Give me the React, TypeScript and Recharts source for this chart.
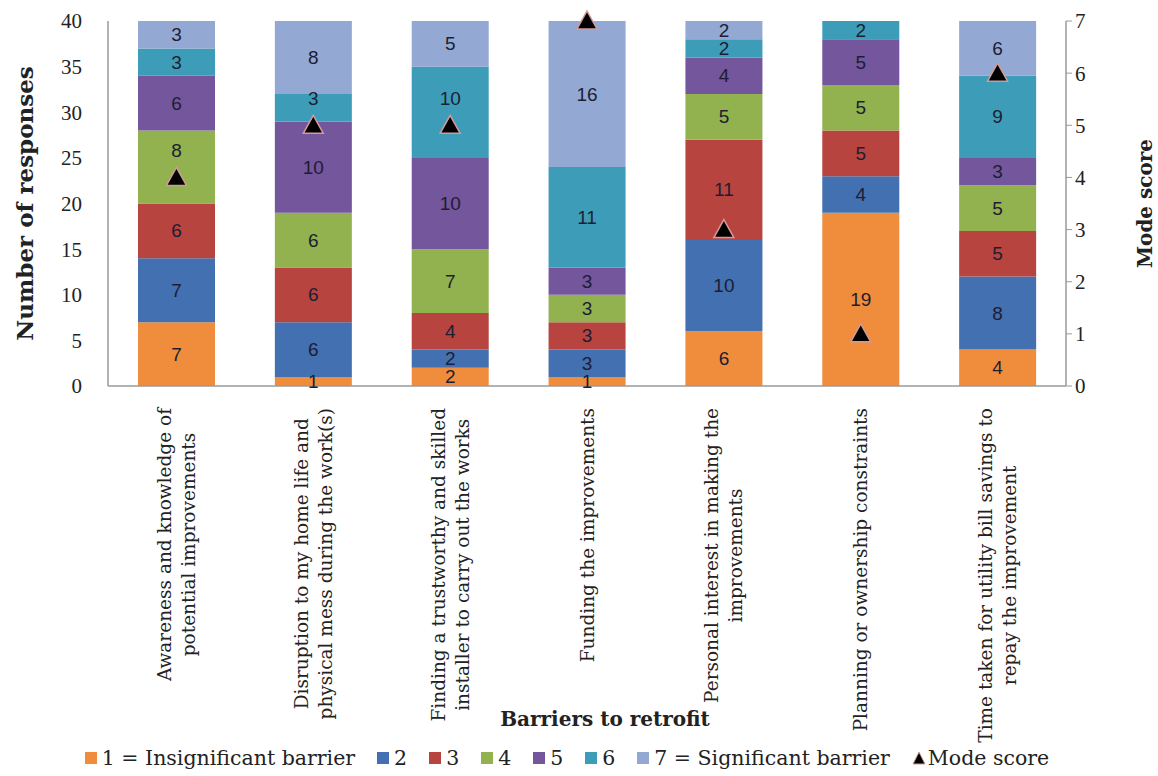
import React from 'react'
import { ComposedChart, Bar, Line, XAxis, YAxis, LabelList, Label } from 'recharts'

// category (tick) labels, already broken into lines as in the source figure
const categoryLabels = [
  ['Awareness and knowledge of', 'potential improvements'],
  ['Disruption to my home life and', 'physical mess during the work(s)'],
  ['Finding a trustworthy and skilled', 'installer to carry out the works'],
  ['Funding the improvements'],
  ['Personal interest in making the', 'improvements'],
  ['Planning or ownership constraints'],
  ['Time taken for utility bill savings to', 'repay the improvement'],
]

// number of responses per score, one array per score
const score1 = [7, 1, 2, 1, 6, 19, 4]
const score2 = [7, 6, 2, 3, 10, 4, 8]
const score3 = [6, 6, 4, 3, 11, 5, 5]
const score4 = [8, 6, 7, 3, 5, 5, 5]
const score5 = [6, 10, 10, 3, 4, 5, 3]
const score6 = [3, 3, 10, 11, 2, 2, 9]
const score7 = [3, 8, 5, 16, 2, 0, 6]
const modeScore = [4, 5, 5, 7, 3, 1, 6]

const responseTicks = [0, 5, 10, 15, 20, 25, 30, 35, 40]
const modeTicks = [0, 0.5, 1, 1.5, 2, 2.5, 3, 3.5, 4, 4.5, 5, 5.5, 6, 6.5, 7]

const seriesNames = ['1 = Insignificant barrier', '2', '3', '4', '5', '6', '7 = Significant barrier']

const COLORS = ['#ef8d3c', '#4270b0', '#b8443f', '#91b24f', '#73569b', '#3d9db8', '#93a9d3']
const AXIS = '#9a9a9a'
const LABEL_FONT = '"DejaVu Serif", serif'

// plot area, used to keep the segment labels clear of the mode markers
const PLOT_TOP = 21
const PLOT_BOTTOM = 386
const MODE_MAX = 7

const seriesValues = [score1, score2, score3, score4, score5, score6, score7]

const data = categoryLabels.map((lines, i) => {
  const row: any = { name: lines.join(' '), mode: modeScore[i] }
  seriesValues.forEach((s, k) => {
    row[`s${k + 1}`] = s[i]
  })
  return row
})

let _ctx: CanvasRenderingContext2D | null = null
const measure = (text: string, font: string) => {
  if (!_ctx) _ctx = document.createElement('canvas').getContext('2d')
  if (!_ctx) return text.length * 10
  _ctx.font = font
  return _ctx.measureText(text).width
}

const CategoryTick = ({ x, y, payload }: any) => {
  const lines = categoryLabels.find((l) => l.join(' ') === payload.value) || [payload.value]
  const fontSize = 18.5
  const lineH = 24
  const maxLen = Math.max(...lines.map((l) => measure(l, `${fontSize}px "DejaVu Serif"`)))
  return (
    <g transform={`translate(${x},${y + 14}) rotate(-90)`}>
      {lines.map((l, i) => (
        <text
          key={i}
          x={-maxLen / 2}
          y={(i - (lines.length - 1) / 2) * lineH}
          textAnchor="middle"
          dominantBaseline="central"
          fontFamily={LABEL_FONT}
          fontSize={fontSize}
          fill="#222"
        >
          {l}
        </text>
      ))}
    </g>
  )
}

const SegmentLabel = (props: any) => {
  const vb = props.viewBox || props
  const { x, y, width, height } = vb
  const { value, index } = props
  if (!value) return null
  let cy = y + height / 2
  const my = PLOT_BOTTOM - (modeScore[index] / MODE_MAX) * (PLOT_BOTTOM - PLOT_TOP)
  if (Math.abs(cy - my) < 22) cy = my - 27
  return (
    <text
      x={x + width / 2}
      y={cy}
      textAnchor="middle"
      dominantBaseline="central"
      fill="#1d1d33"
      fontSize={19}
      fontFamily='"Liberation Sans", sans-serif'
    >
      {value}
    </text>
  )
}

const Triangle = ({ cx, cy, index }: any) => {
  if (cx == null || cy == null) return null
  return (
    <path
      key={index}
      d={`M${cx},${cy - 10} L${cx + 10},${cy + 8} L${cx - 10},${cy + 8} Z`}
      fill="#000"
      stroke="#d49a9a"
      strokeWidth={1.5}
    />
  )
}

const Legend = () => (
  <div
    style={{
      position: 'absolute',
      left: -12,
      top: 746,
      width: 1158,
      display: 'flex',
      justifyContent: 'center',
      gap: 22,
      fontFamily: LABEL_FONT,
      fontSize: 20.5,
      color: '#222',
    }}
  >
    {seriesNames.map((n, i) => (
      <div key={n} style={{ display: 'flex', alignItems: 'center', gap: 5 }}>
        <span style={{ width: 12, height: 12, background: COLORS[i], display: 'inline-block' }} />
        <span>{n}</span>
      </div>
    ))}
    <div style={{ display: 'flex', alignItems: 'center', gap: 2 }}>
      <svg width={14} height={14}>
        <path d="M7,1 L13,13 L1,13 Z" fill="#000" stroke="#d49a9a" strokeWidth={1} />
      </svg>
      <span>Mode score</span>
    </div>
  </div>
)

export default function App() {
  return (
    <div style={{ position: 'absolute', left: 0, top: 0, width: 1158, height: 776, background: '#fff' }}>
      <ComposedChart
        width={1158}
        height={776}
        data={data}
        margin={{ top: PLOT_TOP, right: 0, bottom: 0, left: 0 }}
      >
        <XAxis
          dataKey="name"
          interval={0}
          height={776 - PLOT_BOTTOM}
          tick={<CategoryTick />}
          tickLine={false}
          axisLine={{ stroke: AXIS, strokeWidth: 1.5 }}
        >
          <Label
            content={() => (
              <text
                x={605}
                y={726}
                textAnchor="middle"
                fontFamily={LABEL_FONT}
                fontWeight="bold"
                fontSize={20}
                fill="#222"
              >
                Barriers to retrofit
              </text>
            )}
          />
        </XAxis>
        <YAxis
          yAxisId="left"
          width={108}
          domain={[0, 40]}
          ticks={responseTicks}
          tickLine={false}
          tickSize={6}
          tickMargin={20}
          axisLine={{ stroke: AXIS, strokeWidth: 1.5 }}
          tick={{ fill: '#222', fontSize: 21, fontFamily: '"Liberation Serif", serif' }}
        >
          <Label
            content={({ viewBox }: any) => (
              <text
                transform={`translate(24,${viewBox.y + viewBox.height / 2}) rotate(-90)`}
                textAnchor="middle"
                dominantBaseline="central"
                fontFamily={LABEL_FONT}
                fontWeight="bold"
                fontSize={23}
                fill="#222"
              >
                Number of responses
              </text>
            )}
          />
        </YAxis>
        <YAxis
          yAxisId="right"
          orientation="right"
          width={92}
          domain={[0, MODE_MAX]}
          ticks={modeTicks}
          tickSize={6}
          tickMargin={3}
          tickLine={{ stroke: AXIS }}
          axisLine={{ stroke: AXIS, strokeWidth: 1.5 }}
          tick={{ fill: '#222', fontSize: 21, fontFamily: '"Liberation Serif", serif' }}
        >
          <Label
            content={({ viewBox }: any) => (
              <text
                transform={`translate(1145,${viewBox.y + viewBox.height / 2}) rotate(-90)`}
                textAnchor="middle"
                dominantBaseline="central"
                fontFamily={LABEL_FONT}
                fontWeight="bold"
                fontSize={20}
                fill="#222"
              >
                Mode score
              </text>
            )}
          />
        </YAxis>
        {seriesNames.map((n, k) => (
          <Bar
            key={n}
            yAxisId="left"
            dataKey={`s${k + 1}`}
            name={n}
            stackId="a"
            fill={COLORS[k]}
            barSize={77}
            isAnimationActive={false}
          >
            <LabelList dataKey={`s${k + 1}`} content={<SegmentLabel />} />
          </Bar>
        ))}
        <Line
          yAxisId="right"
          dataKey="mode"
          name="Mode score"
          stroke="none"
          dot={<Triangle />}
          activeDot={false}
          isAnimationActive={false}
        />
      </ComposedChart>
      <Legend />
    </div>
  )
}
